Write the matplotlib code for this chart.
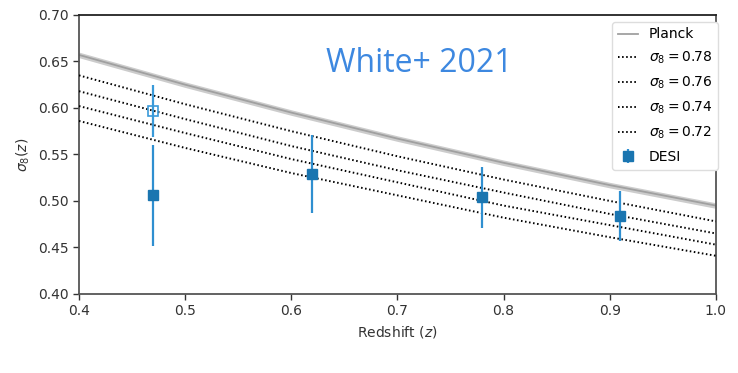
import matplotlib
matplotlib.use("Agg")
import matplotlib.pyplot as plt

# Model curves sampled in redshift
z_model = [0.4, 0.5, 0.6, 0.7, 0.8, 0.9, 1.0]
planck = [0.657, 0.625, 0.595, 0.567, 0.541, 0.517, 0.495]
planck_err = 0.003
sig_078 = [0.635, 0.604, 0.575, 0.548, 0.523, 0.500, 0.478]
sig_076 = [0.618, 0.588, 0.559, 0.533, 0.509, 0.486, 0.465]
sig_074 = [0.602, 0.573, 0.545, 0.520, 0.495, 0.474, 0.453]
sig_072 = [0.586, 0.557, 0.530, 0.506, 0.482, 0.461, 0.441]
sig_labels = [r"$\sigma_8 = 0.78$", r"$\sigma_8 = 0.76$",
              r"$\sigma_8 = 0.74$", r"$\sigma_8 = 0.72$"]

# DESI measurements
z_desi = [0.47, 0.62, 0.78, 0.91]
s8_desi = [0.506, 0.529, 0.504, 0.484]
err_desi = [0.054, 0.042, 0.033, 0.027]

# Alternative estimate at the lowest redshift (open marker)
z_alt = [0.47]
s8_alt = [0.597]
err_alt = [0.028]

xticks = [0.4, 0.5, 0.6, 0.7, 0.8, 0.9, 1.0]
yticks = [0.40, 0.45, 0.50, 0.55, 0.60, 0.65, 0.70]

fig = plt.figure(figsize=(7.38, 3.73), dpi=100)
ax = fig.add_axes([0.107, 0.212, 0.863, 0.748])

lo = [p - planck_err for p in planck]
hi = [p + planck_err for p in planck]
ax.fill_between(z_model, lo, hi, color="#cccccc", lw=0, zorder=1)
ax.plot(z_model, planck, color="#a0a0a0", lw=1.3, label="Planck", zorder=2)

for vals, lab in zip([sig_078, sig_076, sig_074, sig_072], sig_labels):
    ax.plot(z_model, vals, color="black", lw=1.4, ls=(0, (0.8, 1.3)),
            label=lab, zorder=3)

ax.errorbar(z_alt, s8_alt, yerr=err_alt, fmt="s", ms=7, mfc="none",
            mec="#3a9ad9", mew=1.2, ecolor="#3a9ad9", elinewidth=1.6,
            capsize=0, zorder=4)
ax.errorbar(z_desi, s8_desi, yerr=err_desi, fmt="s", ms=7, color="#1a75b0",
            ecolor="#2f8fd0", elinewidth=1.6, capsize=0, label="DESI",
            zorder=5)

ax.set_xlim(0.4, 1.0)
ax.set_ylim(0.40, 0.70)
ax.set_xticks(xticks)
ax.set_yticks(yticks)
ax.set_xticklabels([f"{t:.1f}" for t in xticks])
ax.set_yticklabels([f"{t:.2f}" for t in yticks])
ax.tick_params(labelsize=10, colors="#333333", length=4, width=1.0)
for sp in ax.spines.values():
    sp.set_color("#555555")
    sp.set_linewidth(1.3)
ax.spines["top"].set_color("#222222")

ax.set_xlabel(r"Redshift ($z$)", fontsize=10, color="#333333")
ax.set_ylabel(r"$\sigma_8(z)$", fontsize=10, color="#333333")

ax.text(0.535, 0.826, "White+ 2021", transform=ax.transAxes, ha="center",
        va="center", fontsize=23, color="#3d88e0", family="Open Sans")

leg = ax.legend(loc="upper right", bbox_to_anchor=(1.003, 0.975),
                borderaxespad=0.0, fontsize=10, labelspacing=0.62,
                handlelength=1.5, handletextpad=0.75, framealpha=1,
                edgecolor="#dddddd")

fig.savefig("out.png", dpi=100)
